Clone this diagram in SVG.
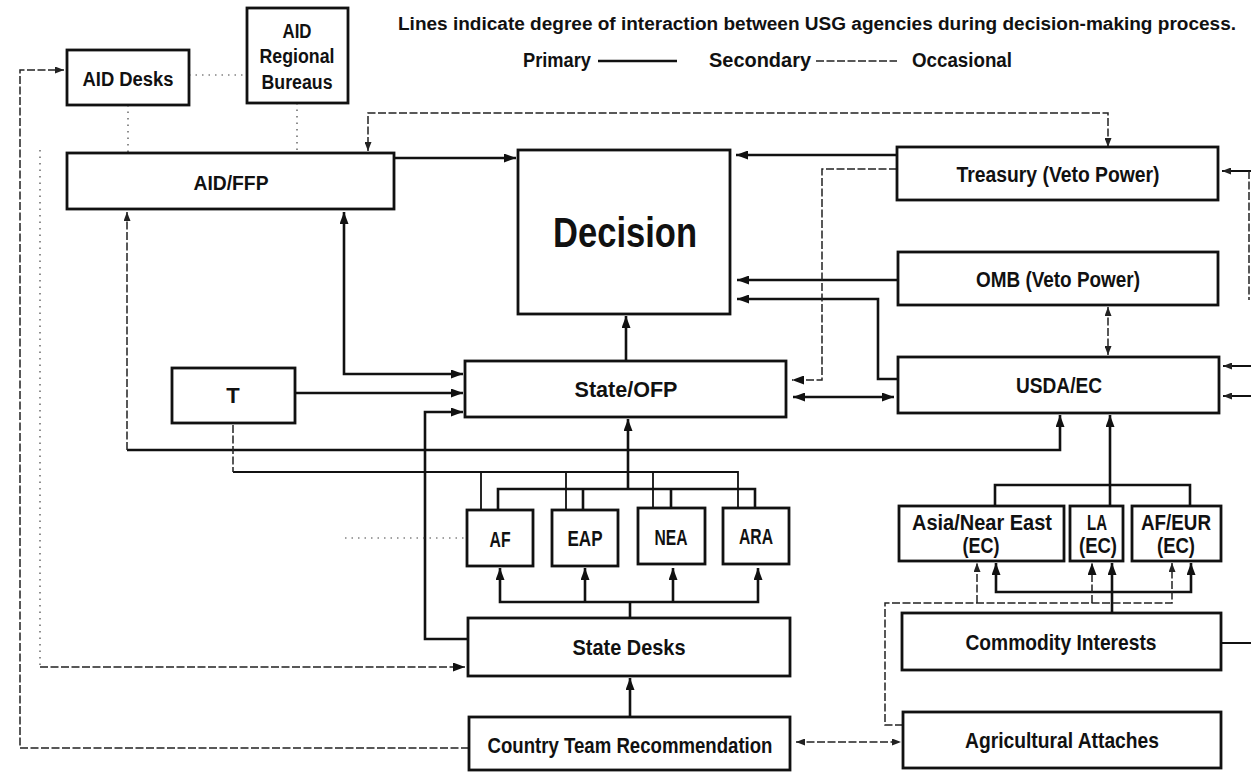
<svg xmlns="http://www.w3.org/2000/svg" width="1251" height="772" viewBox="0 0 1251 772">
<style>
.bx{fill:#fff;stroke:#111;stroke-width:2.8}
.t{font-family:"Liberation Sans",Arial,sans-serif;font-weight:bold;fill:#111;text-anchor:middle;font-size:22px}
.s20{font-size:20px}
.lg{font-family:"Liberation Sans",Arial,sans-serif;font-weight:bold;fill:#111;font-size:20px}
.p{fill:none;stroke:#111;stroke-width:2.6}
.s{fill:none;stroke:#222;stroke-width:1.5;stroke-dasharray:8 2.5}
.o{fill:none;stroke:#444;stroke-width:1.2;stroke-dasharray:1.5 5}
</style>
<defs>
<marker id="a" viewBox="0 0 12 9" refX="12" refY="4.5" markerWidth="12" markerHeight="9" markerUnits="userSpaceOnUse" orient="auto-start-reverse"><path d="M0,0 L12,4.5 L0,9 z" fill="#111"/></marker>
<marker id="b" viewBox="0 0 9 7" refX="9" refY="3.5" markerWidth="9" markerHeight="7" markerUnits="userSpaceOnUse" orient="auto-start-reverse"><path d="M0,0 L9,3.5 L0,7 z" fill="#222"/></marker>
</defs>
<rect width="1251" height="772" fill="#fff"/>

<g id="legend">
<text class="lg" style="font-size:18px" x="398" y="30" textLength="838" lengthAdjust="spacingAndGlyphs">Lines indicate degree of interaction between USG agencies during decision-making process.</text>
<text class="lg" x="523" y="67" textLength="68" lengthAdjust="spacingAndGlyphs">Primary</text>
<path class="p" d="M598,61 H677"/>
<text class="lg" x="709" y="67" textLength="102" lengthAdjust="spacingAndGlyphs">Secondary</text>
<path class="s" d="M816,61 H897"/>
<text class="lg" x="912" y="67" textLength="100" lengthAdjust="spacingAndGlyphs">Occasional</text>
</g>

<g id="connectors">
<!-- primary -->
<path class="p" d="M394,158 H516" marker-end="url(#a)"/>
<path class="p" d="M897,155 H736" marker-end="url(#a)"/>
<path class="p" d="M898,280 H737" marker-end="url(#a)"/>
<path class="p" d="M898,379 H878 V299 H737" marker-end="url(#a)"/>
<path class="p" d="M793,397 H894" marker-start="url(#a)" marker-end="url(#a)"/>
<path class="p" d="M626,361 V316" marker-end="url(#a)"/>
<path class="p" d="M344,212 V374 H463" marker-start="url(#a)" marker-end="url(#a)"/>
<path class="p" d="M295,393 H463" marker-end="url(#a)"/>
<path class="p" d="M468,639 H425 V412 H463" marker-end="url(#a)"/>
<path class="p" d="M628,489 V419" marker-end="url(#a)"/>
<path class="p" d="M498,510 V489 H755 V508 M583,489 V510 M671,489 V508"/>
<path class="p" style="stroke-width:1.8" d="M233,472 H738 V508 M481,472 V510 M566,472 V510 M653,472 V508"/>
<path class="p" d="M630,618 V602"/>
<path class="p" d="M500,568 V602 H758 V568" marker-start="url(#a)" marker-end="url(#a)"/>
<path class="p" d="M585,602 V568" marker-end="url(#a)"/>
<path class="p" d="M673,602 V568" marker-end="url(#a)"/>
<path class="p" d="M630,717 V678" marker-end="url(#a)"/>
<path class="p" d="M1110,506 V415" marker-end="url(#a)"/>
<path class="p" d="M995,506 V485 H1190 V506"/>
<path class="p" d="M1112,613 V563" marker-end="url(#a)"/>
<path class="p" d="M996,563 V592 H1191 V563" marker-start="url(#a)" marker-end="url(#a)"/>
<path class="p" d="M127,450 H1060 V415" marker-end="url(#a)"/>
<path class="p" style="stroke-width:2" d="M1251,171 H1222" marker-end="url(#b)"/>
<path class="p" style="stroke-width:2" d="M1251,366 H1223" marker-end="url(#b)"/>
<path class="p" style="stroke-width:2" d="M1251,396 H1223" marker-end="url(#b)"/>
<path class="p" style="stroke-width:2" d="M1221,643 H1251"/>
<!-- secondary -->
<path class="s" d="M1108,147 V113 H368 V151" marker-start="url(#b)" marker-end="url(#b)"/>
<path class="s" d="M897,169 H822 V380 H792" marker-end="url(#a)"/>
<path class="s" d="M1108,307 V355" marker-start="url(#b)" marker-end="url(#b)"/>
<path class="s" d="M796,742 H901" marker-start="url(#b)" marker-end="url(#b)"/>
<path class="s" d="M469,748 H20 V70 H64" marker-end="url(#b)"/>
<path class="s" d="M903,725 H885 V603 H1172 V563" marker-end="url(#b)"/>
<path class="s" d="M977,603 V563" marker-end="url(#b)"/>
<path class="s" d="M1092,603 V563" marker-end="url(#a)"/>
<path class="s" d="M127,450 V212" marker-end="url(#b)"/>
<path class="s" d="M233,425 V472"/>
<path class="s" d="M40,667 H465" marker-end="url(#a)"/>
<path class="s" d="M1249,171 V300"/>
<!-- occasional -->
<path class="o" d="M40,150 V667"/>
<path class="o" d="M189,75 H247"/>
<path class="o" d="M128,105 V153"/>
<path class="o" d="M297,103 V153"/>
<path class="o" d="M345,538 H467"/>
</g>

<g id="aid-desks"><rect class="bx" x="67" y="50" width="122" height="55"/><text class="t s20" x="128" y="86" textLength="91" lengthAdjust="spacingAndGlyphs">AID Desks</text></g>
<g id="aid-regional-bureaus"><rect class="bx" x="247" y="8" width="101" height="95"/>
<text class="t s20" x="297" y="38" textLength="29" lengthAdjust="spacingAndGlyphs">AID</text>
<text class="t s20" x="297" y="63" textLength="75" lengthAdjust="spacingAndGlyphs">Regional</text>
<text class="t s20" x="297" y="89" textLength="71" lengthAdjust="spacingAndGlyphs">Bureaus</text></g>
<g id="aid-ffp"><rect class="bx" x="67" y="153" width="327" height="56"/><text class="t s20" x="231" y="190" textLength="75" lengthAdjust="spacingAndGlyphs">AID/FFP</text></g>
<g id="decision"><rect class="bx" x="518" y="150" width="212" height="164"/><text class="t" style="font-size:42px" x="625" y="247" textLength="144" lengthAdjust="spacingAndGlyphs">Decision</text></g>
<g id="treasury"><rect class="bx" x="897" y="147" width="321" height="53"/><text class="t" x="1058" y="182" textLength="203" lengthAdjust="spacingAndGlyphs">Treasury (Veto Power)</text></g>
<g id="omb"><rect class="bx" x="898" y="252" width="320" height="53"/><text class="t" x="1058" y="287" textLength="164" lengthAdjust="spacingAndGlyphs">OMB (Veto Power)</text></g>
<g id="usda-ec"><rect class="bx" x="898" y="357" width="321" height="56"/><text class="t" x="1059" y="393" textLength="86" lengthAdjust="spacingAndGlyphs">USDA/EC</text></g>
<g id="state-ofp"><rect class="bx" x="465" y="361" width="321" height="56"/><text class="t" x="626" y="397" textLength="103" lengthAdjust="spacingAndGlyphs">State/OFP</text></g>
<g id="t"><rect class="bx" x="172" y="368" width="123" height="55"/><text class="t" x="233" y="403">T</text></g>
<g id="af"><rect class="bx" x="467" y="510" width="66" height="56"/><text class="t" x="500" y="547" textLength="21" lengthAdjust="spacingAndGlyphs">AF</text></g>
<g id="eap"><rect class="bx" x="552" y="510" width="66" height="56"/><text class="t" x="585" y="546" textLength="35" lengthAdjust="spacingAndGlyphs">EAP</text></g>
<g id="nea"><rect class="bx" x="638" y="508" width="67" height="56"/><text class="t" x="671" y="545" textLength="33" lengthAdjust="spacingAndGlyphs">NEA</text></g>
<g id="ara"><rect class="bx" x="723" y="508" width="66" height="56"/><text class="t" x="756" y="544" textLength="34" lengthAdjust="spacingAndGlyphs">ARA</text></g>
<g id="state-desks"><rect class="bx" x="468" y="618" width="322" height="58"/><text class="t" x="629" y="655" textLength="113" lengthAdjust="spacingAndGlyphs">State Desks</text></g>
<g id="country-team"><rect class="bx" x="469" y="717" width="321" height="53"/><text class="t" x="630" y="753" textLength="285" lengthAdjust="spacingAndGlyphs">Country Team Recommendation</text></g>
<g id="asia-near-east"><rect class="bx" x="899" y="506" width="165" height="55"/>
<text class="t" x="982" y="530" textLength="140" lengthAdjust="spacingAndGlyphs">Asia/Near East</text>
<text class="t" x="981" y="553" textLength="37" lengthAdjust="spacingAndGlyphs">(EC)</text></g>
<g id="la"><rect class="bx" x="1070" y="506" width="53" height="55"/>
<text class="t" x="1097" y="530" textLength="20" lengthAdjust="spacingAndGlyphs">LA</text>
<text class="t" x="1098" y="553" textLength="38" lengthAdjust="spacingAndGlyphs">(EC)</text></g>
<g id="af-eur"><rect class="bx" x="1132" y="506" width="89" height="55"/>
<text class="t" x="1176" y="530" textLength="70" lengthAdjust="spacingAndGlyphs">AF/EUR</text>
<text class="t" x="1176" y="553" textLength="38" lengthAdjust="spacingAndGlyphs">(EC)</text></g>
<g id="commodity-interests"><rect class="bx" x="902" y="613" width="319" height="57"/><text class="t" x="1061" y="650" textLength="191" lengthAdjust="spacingAndGlyphs">Commodity Interests</text></g>
<g id="agricultural-attaches"><rect class="bx" x="903" y="712" width="318" height="56"/><text class="t" x="1062" y="748" textLength="194" lengthAdjust="spacingAndGlyphs">Agricultural Attaches</text></g>
</svg>
